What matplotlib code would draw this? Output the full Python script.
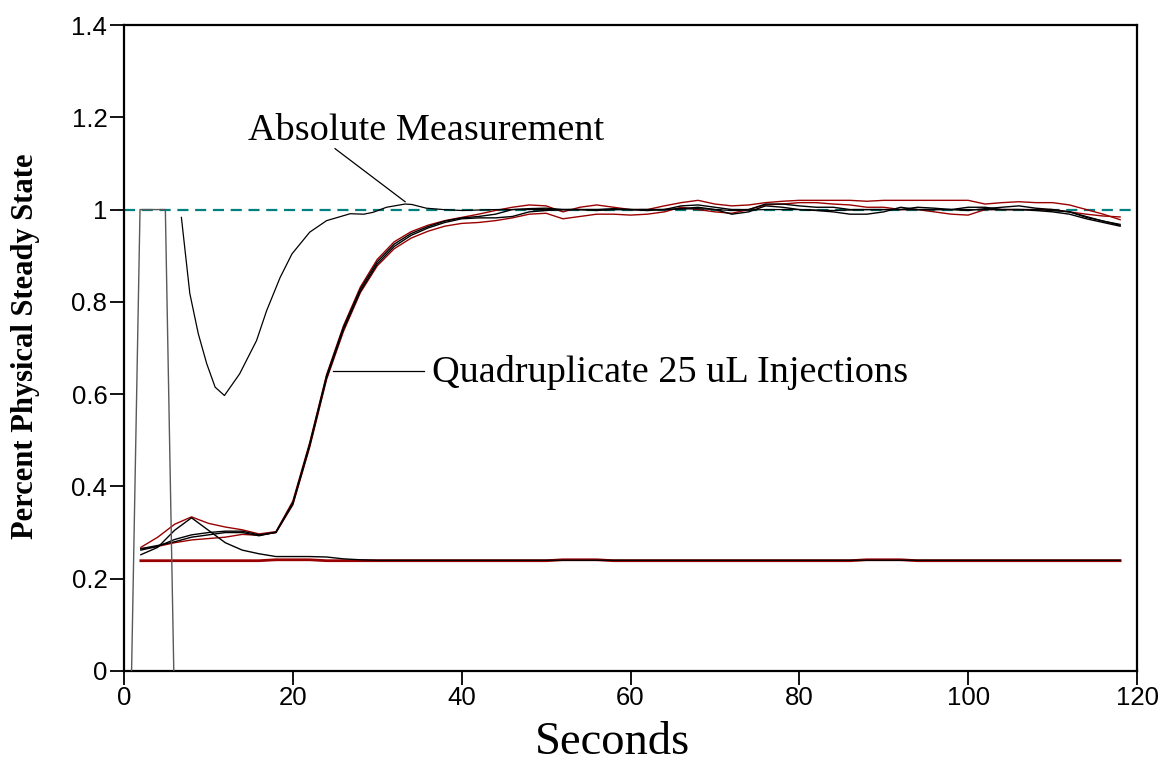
import numpy as np
import matplotlib
matplotlib.use("Agg")
import matplotlib.pyplot as plt

# ----- datos -----
t = [2, 4, 6, 8, 10, 12, 14, 16, 18, 20, 22, 24, 26, 28, 30, 32, 34, 36, 38, 40,
     42, 44, 46, 48, 50, 52, 54, 56, 58, 60, 62, 64, 66, 68, 70, 72, 74, 76, 78, 80,
     82, 84, 86, 88, 90, 92, 94, 96, 98, 100, 102, 104, 106, 108, 110, 112, 114, 116, 118]

# inyecciones por cuadruplicado (2 negras, 2 rojas)
iny_a = [.262, .270, .285, .295, .300, .303, .303, .295, .300, .362, .488, .635, .740, .823, .882, .920, .944, .960, .972, .980,
         .982, .982, .985, .995, .998, 1.0, 1.0, .998, 1.0, 1.0, 1.0, 1.0, 1.002, 1.005, 1.0, .990, .995, 1.008, 1.005, 1.0,
         .998, .995, .990, .990, .995, 1.005, 1.0, 1.0, 1.0, 1.005, 1.005, 1.0, 1.0, .998, .995, .990, .980, .972, .964]
iny_b = [.265, .272, .280, .290, .295, .300, .300, .293, .301, .365, .492, .640, .745, .828, .887, .925, .948, .963, .975, .982,
         .985, .990, 1.0, 1.002, 1.003, 1.0, 1.0, 1.0, 1.002, 1.0, .998, 1.0, 1.008, 1.010, 1.005, 1.0, 1.0, 1.012, 1.012, 1.008,
         1.005, 1.005, 1.0, 1.0, 1.0, 1.0, 1.005, 1.003, 1.0, .998, 1.002, 1.005, 1.008, 1.003, 1.0, .995, .983, .975, .966]
iny_c = [.268, .290, .318, .334, .320, .312, .306, .297, .302, .368, .495, .642, .748, .832, .892, .930, .952, .966, .976, .983,
         .990, .998, 1.005, 1.010, 1.008, .995, 1.005, 1.010, 1.005, 1.0, 1.0, 1.008, 1.015, 1.020, 1.012, 1.008, 1.010, 1.015, 1.018, 1.020,
         1.020, 1.020, 1.020, 1.018, 1.020, 1.020, 1.020, 1.020, 1.020, 1.020, 1.012, 1.015, 1.017, 1.015, 1.015, 1.010, 1.0, .990, .978]
iny_d = [.265, .270, .278, .284, .287, .290, .296, .294, .300, .360, .485, .632, .736, .820, .878, .915, .938, .953, .964, .970,
         .972, .976, .982, .990, .992, .980, .985, .990, .990, .988, .990, .995, 1.005, 1.0, .995, .992, 1.0, 1.010, 1.012, 1.015,
         1.015, 1.012, 1.010, 1.005, 1.005, 1.0, 1.0, .995, .990, .988, 1.0, 1.0, 1.0, 1.0, 1.0, .995, .990, .986, .984]

# linea base
base_neg = [.252, .268, .305, .332, .305, .278, .262, .254, .248, .248, .248, .247, .243, .241, .240, .240, .240, .240, .240, .240,
            .240, .240, .240, .240, .240, .240, .240, .240, .240, .240, .240, .240, .240, .240, .240, .240, .240, .240, .240, .240,
            .240, .240, .240, .240, .240, .240, .240, .240, .240, .240, .240, .240, .240, .240, .240, .240, .240, .240, .240]
base_roja = [.239, .239, .239, .239, .239, .239, .239, .239, .241, .241, .241, .239, .239, .239, .239, .239, .239, .239, .239, .239,
             .239, .239, .239, .239, .239, .241, .241, .241, .239, .239, .239, .239, .239, .239, .239, .239, .239, .239, .239, .239,
             .239, .239, .239, .241, .241, .241, .239, .239, .239, .239, .239, .239, .239, .239, .239, .239, .239, .239, .239]

# medicion absoluta
abs_t = [0.9, 1.9, 4.9, 5.9, np.nan, 6.8, 7.8, 8.8, 9.8, 10.8, 11.9, 13.7, 15.7, 16.9, 18.5, 19.9, 22.0, 24.0,
         26.8, 28.4, 29.5, 31.1, 33.3, 34.1, 35.8, 37.8, 40, 44, 48, 52, 56, 60, 64, 68, 72, 76, 80,
         84, 88, 92, 96, 100, 104, 108, 112, 116, 118]
abs_y = [0, 1.0, 1.0, 0, np.nan, 0.983, 0.818, 0.731, 0.666, 0.615, 0.597, 0.644, 0.716, 0.781, 0.853, 0.904, 0.951, 0.976,
         0.991, 0.990, 0.994, 1.005, 1.012, 1.011, 1.003, 1.0, 0.998, 1.0, 1.0, 1.0, 1.0, 1.0, 1.0, 1.002, 0.998, 1.0, 1.0,
         0.998, 1.0, 1.0, 1.0, 1.0, 1.0, 1.0, 0.995, 0.975, 0.968]

x_ticks = [0, 20, 40, 60, 80, 100, 120]
y_ticks = [0, 0.2, 0.4, 0.6, 0.8, 1.0, 1.2, 1.4]
y_labels = ["0", "0.2", "0.4", "0.6", "0.8", "1", "1.2", "1.4"]

ROJO = "#9b0000"
SERIF = "Liberation Serif"
SANS = "Liberation Sans"

fig = plt.figure(figsize=(11.62, 7.74), dpi=100)
ax = fig.add_axes([0.1067, 0.1331, 0.8718, 0.8346])

ax.axhline(1.0, color="#008080", lw=1.6, ls=(0, (5, 3)), zorder=1)

ax.plot(t, base_roja, color=ROJO, lw=2.0, zorder=2)
ax.plot(t, base_neg, color="black", lw=1.0, zorder=3)

ax.plot(t, iny_d, color=ROJO, lw=1.0, zorder=2)
ax.plot(t, iny_c, color=ROJO, lw=1.0, zorder=2)
ax.plot(t, iny_a, color="black", lw=1.0, zorder=3)
ax.plot(t, iny_b, color="black", lw=1.0, zorder=3)

ax.plot(abs_t[:4], abs_y[:4], color="0.35", lw=1.0, zorder=3)
ax.plot(abs_t[5:], abs_y[5:], color="black", lw=0.9, zorder=3)

# anotaciones
ax.plot([25.0, 33.3], [1.132, 1.017], color="black", lw=0.9)
ax.text(14.7, 1.171, "Absolute Measurement", family=SERIF, fontsize=27.5, ha="left", va="center")
ax.plot([24.8, 35.5], [0.651, 0.651], color="black", lw=0.9)
ax.text(36.5, 0.647, "Quadruplicate 25 uL Injections", family=SERIF, fontsize=27.5, ha="left", va="center")

ax.set_xlim(0, 120)
ax.set_ylim(0, 1.4)
ax.set_xticks(x_ticks)
ax.set_yticks(y_ticks)
ax.set_yticklabels(y_labels)
for lab in ax.get_xticklabels() + ax.get_yticklabels():
    lab.set_family(SANS)
    lab.set_fontsize(18.5)
ax.tick_params(direction="out", length=10, width=1.3)
ax.tick_params(axis="x", pad=1)
ax.tick_params(axis="y", pad=2)

for s in ax.spines.values():
    s.set_linewidth(1.6)

ax.set_xlabel("Seconds", family=SERIF, fontsize=33.5)
ax.xaxis.set_label_coords(0.482, -0.078)
ax.set_ylabel("Percent Physical Steady State", family=SERIF, fontsize=22, fontweight="bold")
ax.yaxis.set_label_coords(-0.083, 0.503)

plt.savefig("out.png", dpi=100)
